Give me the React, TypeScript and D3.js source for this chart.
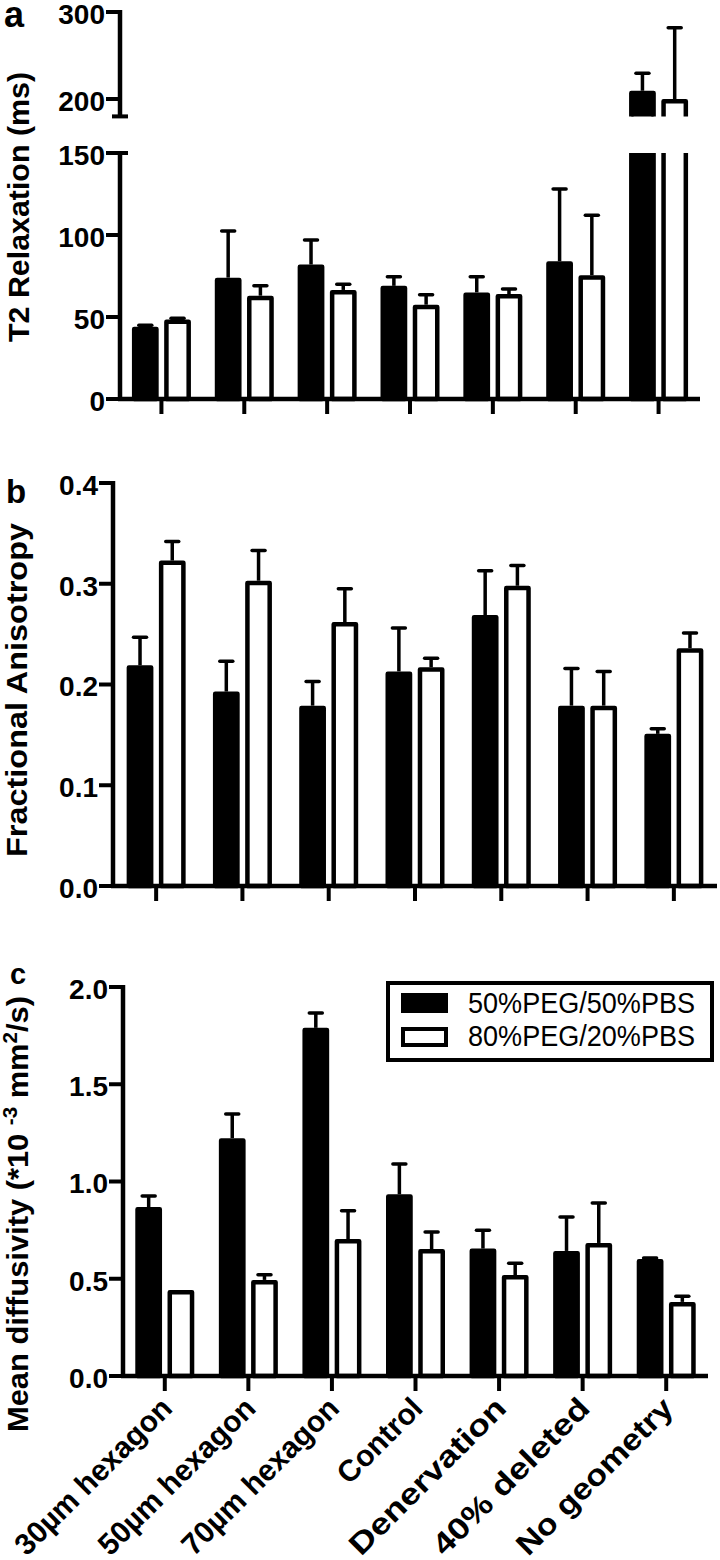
import React from "react";
import * as d3 from "d3";

// groups along the x axis
const categories = [
  "30µm hexagon",
  "50µm hexagon",
  "70µm hexagon",
  "Control",
  "Denervation",
  "40% deleted",
  "No geometry",
];
const seriesNames = ["50%PEG/50%PBS", "80%PEG/20%PBS"];

// a: T2 relaxation (ms)
const t2Mean50 = [44, 74, 82, 69, 65, 84, 209.5];
const t2Err50 = [1, 28.5, 15, 5.5, 9.5, 44, 20];
const t2Mean80 = [48.5, 63, 66.5, 57.5, 64, 75.5, 200];
const t2Err80 = [0.8, 6, 3.5, 6, 3, 36.5, 82];
const t2LowTicks = [0, 50, 100, 150];
const t2HighTicks = [200, 300];

// b: fractional anisotropy
const faMean50 = [0.219, 0.193, 0.179, 0.213, 0.269, 0.179, 0.151];
const faErr50 = [0.028, 0.03, 0.024, 0.043, 0.044, 0.037, 0.005];
const faMean80 = [0.323, 0.303, 0.262, 0.217, 0.298, 0.179, 0.236];
const faErr80 = [0.019, 0.03, 0.033, 0.009, 0.02, 0.034, 0.015];
const faTicks = [0, 0.1, 0.2, 0.3, 0.4];

// c: mean diffusivity
const mdMean50 = [0.869, 1.223, 1.79, 0.934, 0.655, 0.643, 0.602];
const mdErr50 = [0.057, 0.124, 0.076, 0.156, 0.095, 0.174, 0.005];
const mdMean80 = [0.442, 0.494, 0.704, 0.653, 0.519, 0.684, 0.381];
const mdErr80 = [0, 0.026, 0.146, 0.087, 0.061, 0.205, 0.029];
const mdTicks = [0, 0.5, 1.0, 1.5, 2.0];

const FONT = "'Liberation Sans', Arial, Helvetica, sans-serif";
const AXIS_W = 4.5;
const SW = 4.5;

function makeX(x0: number, x1: number) {
  const outer = d3.scaleBand<string>().domain(categories).range([x0, x1]);
  const half = outer.bandwidth() / 2;
  const inner = d3
    .scaleBand<string>()
    .domain(seriesNames)
    .range([half - 29.5, half + 29.5])
    .paddingInner(0.17);
  return { outer, inner };
}

function Bars({ xs, y, means, errs, clip }: any) {
  const { outer, inner } = xs;
  const bw = inner.bandwidth();
  const y0 = y(0);
  return (
    <g clipPath={clip ? `url(#${clip})` : undefined}>
      {means.map((vals: number[], s: number) =>
        vals.map((v, i) => {
          const left = outer(categories[i]) + inner(seriesNames[s]);
          const cx = left + bw / 2;
          const top = y(v);
          const e = errs[s][i];
          return (
            <g key={`${s}-${i}`}>
              {e > 0 && (
                <>
                  <line x1={cx} x2={cx} y1={top} y2={y(v + e)} stroke="#000" strokeWidth={3.5} />
                  <line
                    x1={cx - 6.5}
                    x2={cx + 6.5}
                    y1={y(v + e)}
                    y2={y(v + e)}
                    stroke="#000"
                    strokeWidth={3.5}
                    strokeLinecap="round"
                  />
                </>
              )}
              <rect
                x={left + SW / 2}
                y={top + SW / 2}
                width={bw - SW}
                height={Math.max(0, y0 - top - SW / 2)}
                fill={s === 0 ? "#000" : "#fff"}
                stroke="#000"
                strokeWidth={SW}
                strokeLinejoin="round"
              />
            </g>
          );
        })
      )}
    </g>
  );
}

function YAxis({ x, y, ticks, fmt, top, bottom, fontSize = 28 }: any) {
  return (
    <g>
      <line x1={x} x2={x} y1={top} y2={bottom} stroke="#000" strokeWidth={AXIS_W} />
      {ticks.map((t: number) => (
        <g key={t}>
          <line x1={x - 14} x2={x} y1={y(t)} y2={y(t)} stroke="#000" strokeWidth={4} />
          <text
            x={x - 15}
            y={y(t)}
            dy="0.42em"
            textAnchor="end"
            fontFamily={FONT}
            fontWeight="bold"
            fontSize={fontSize}
          >
            {fmt(t)}
          </text>
        </g>
      ))}
    </g>
  );
}

function XAxis({ xs, y0, x0, x1 }: any) {
  const { outer } = xs;
  return (
    <g>
      <line x1={x0 - 2} x2={x1} y1={y0} y2={y0} stroke="#000" strokeWidth={AXIS_W} />
      {categories.map((c) => {
        const cx = outer(c) + outer.bandwidth() / 2;
        return <line key={c} x1={cx} x2={cx} y1={y0} y2={y0 + 15} stroke="#000" strokeWidth={4} />;
      })}
    </g>
  );
}

function YTitle({ x, cy, length, children, fontSize = 30 }: any) {
  return (
    <text
      transform={`translate(${x},${cy}) rotate(-90)`}
      textAnchor="middle"
      fontFamily={FONT}
      fontWeight="bold"
      fontSize={fontSize}
      textLength={length}
      lengthAdjust="spacingAndGlyphs"
    >
      {children}
    </text>
  );
}

export default function App() {
  // ---- panel a (broken axis)
  const aX = 120;
  const aXs = makeX(aX, 700);
  const aLow = d3.scaleLinear().domain([0, 150]).range([399, 153]);
  const aHigh = d3.scaleLinear().domain([200, 300]).range([99, 12]);
  const aBreak = aHigh(180);

  // ---- panel b
  const bX = 113;
  const bXs = makeX(bX, 717);
  const bY = d3.scaleLinear().domain([0, 0.4]).range([886, 483]);

  // ---- panel c
  const cX = 123;
  const cXs = makeX(cX, 708);
  const cY = d3.scaleLinear().domain([0, 2]).range([1376, 987]);

  const fmt1 = d3.format(".1f");
  const fmt0 = d3.format("d");

  return (
    <svg
      width={720}
      height={1560}
      style={{ position: "absolute", left: 0, top: 0, background: "#fff" }}
    >
      <defs>
        <clipPath id="clipHigh">
          <rect x={0} y={0} width={720} height={aBreak} />
        </clipPath>
        <clipPath id="clipLow">
          <rect x={0} y={aLow(150)} width={720} height={420 - aLow(150)} />
        </clipPath>
      </defs>

      {/* ---------- a ---------- */}
      <text x={4} y={27} fontFamily={FONT} fontWeight="bold" fontSize={36}>a</text>
      <YTitle x={29} cy={207} length={270}>T2 Relaxation (ms)</YTitle>
      <Bars xs={aXs} y={aHigh} means={[t2Mean50, t2Mean80]} errs={[t2Err50, t2Err80]} clip="clipHigh" />
      <Bars xs={aXs} y={aLow} means={[t2Mean50, t2Mean80]} errs={[t2Err50, t2Err80]} clip="clipLow" />
      <YAxis x={aX} y={aHigh} ticks={t2HighTicks} fmt={fmt0} top={aHigh(300) - 2} bottom={aBreak} />
      <line x1={aX - 8} x2={aX + 8} y1={aBreak} y2={aBreak} stroke="#000" strokeWidth={4} />
      <YAxis x={aX} y={aLow} ticks={t2LowTicks} fmt={fmt0} top={aLow(150) - 2} bottom={aLow(0) + 2} />
      <line x1={aX} x2={aX + 8} y1={aLow(150)} y2={aLow(150)} stroke="#000" strokeWidth={4} />
      <XAxis xs={aXs} y0={aLow(0)} x0={aX} x1={700} />

      {/* ---------- b ---------- */}
      <text x={6} y={503} fontFamily={FONT} fontWeight="bold" fontSize={33}>b</text>
      <YTitle x={27} cy={690} length={334}>Fractional Anisotropy</YTitle>
      <Bars xs={bXs} y={bY} means={[faMean50, faMean80]} errs={[faErr50, faErr80]} />
      <YAxis x={bX} y={bY} ticks={faTicks} fmt={fmt1} top={bY(0.4) - 2} bottom={bY(0) + 2} />
      <XAxis xs={bXs} y0={bY(0)} x0={bX} x1={717} />

      {/* ---------- c ---------- */}
      <text x={10} y={984} fontFamily={FONT} fontWeight="bold" fontSize={29}>c</text>
      <text
        transform={`translate(28,1214) rotate(-90)`}
        textAnchor="middle"
        fontFamily={FONT}
        fontWeight="bold"
        fontSize={30}
        textLength={436}
        lengthAdjust="spacingAndGlyphs"
      >
        Mean diffusivity (*10{" "}
        <tspan fontSize={20} dy={-11}>-3</tspan>
        <tspan dy={11}> mm</tspan>
        <tspan fontSize={20} dy={-11}>2</tspan>
        <tspan dy={11}>/s)</tspan>
      </text>
      <Bars xs={cXs} y={cY} means={[mdMean50, mdMean80]} errs={[mdErr50, mdErr80]} />
      <YAxis x={cX} y={cY} ticks={mdTicks} fmt={fmt1} top={cY(2) - 2} bottom={cY(0) + 2} />
      <XAxis xs={cXs} y0={cY(0)} x0={cX} x1={708} />
      {categories.map((c) => {
        const cx = cXs.outer(c)! + cXs.outer.bandwidth() / 2;
        return (
          <text
            key={c}
            transform={`translate(${cx + 9},${cY(0) + 34}) rotate(-45)`}
            textAnchor="end"
            fontFamily={FONT}
            fontWeight="bold"
            fontSize={30}
            textLength={c.length > 10 ? 208 : undefined}
            lengthAdjust="spacingAndGlyphs"
          >
            {c}
          </text>
        );
      })}

      {/* legend */}
      <rect x={388} y={983} width={324} height={77} fill="#fff" stroke="#000" strokeWidth={4} />
      {seriesNames.map((s, i) => (
        <g key={s}>
          <rect
            x={403}
            y={995 + i * 34}
            width={43}
            height={16}
            fill={i === 0 ? "#000" : "#fff"}
            stroke="#000"
            strokeWidth={4}
          />
          <text
            x={468}
            y={1013 + i * 33}
            fontFamily={FONT}
            fontSize={30}
            textLength={227}
            lengthAdjust="spacingAndGlyphs"
          >
            {s}
          </text>
        </g>
      ))}
    </svg>
  );
}
